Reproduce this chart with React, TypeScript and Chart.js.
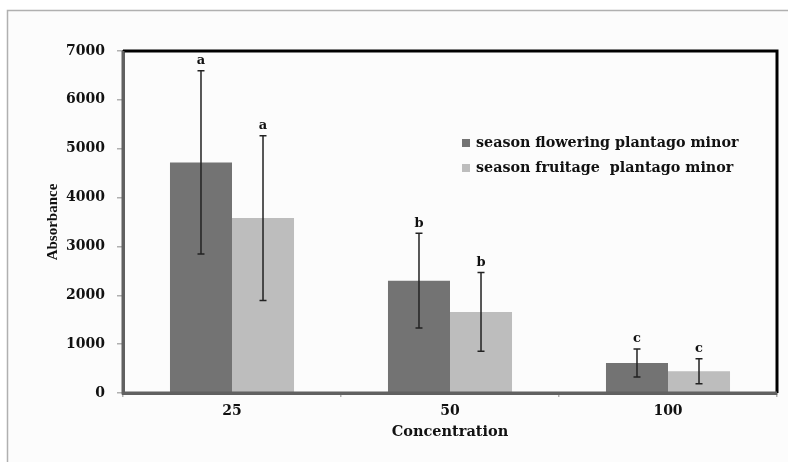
import React, { useEffect, useRef } from "react";
import { Chart, registerables } from "chart.js";

Chart.register(...registerables);

const categories = ["25", "50", "100"];
const seriesNames = ["season flowering plantago minor", "season fruitage  plantago minor"];
const flowering = [4720, 2300, 615];
const fruitage = [3580, 1660, 445];
const floweringErr = [1875, 970, 285];
const fruitageErr = [1685, 805, 256];
const floweringLetters = ["a", "b", "c"];
const fruitageLetters = ["a", "b", "c"];
const yTicks = [0, 1000, 2000, 3000, 4000, 5000, 6000, 7000];

const DARK = "#737373";
const LIGHT = "#bdbdbd";
const SERIF_WIDE = "'DejaVu Serif', serif";
const SERIF = "'Liberation Serif', 'Times New Roman', serif";

export default function App() {
  const ref = useRef<HTMLCanvasElement | null>(null);

  useEffect(() => {
    const canvas = ref.current;
    if (!canvas) return;
    const errs = [floweringErr, fruitageErr];
    const letters = [floweringLetters, fruitageLetters];

    const framePlugin = {
      id: "frame",
      beforeDraw(chart: any) {
        const ctx = chart.ctx;
        ctx.save();
        ctx.fillStyle = "#ffffff";
        ctx.fillRect(0, 0, chart.width, chart.height);
        ctx.fillStyle = "#fcfcfc";
        ctx.fillRect(7, 10, chart.width, chart.height);
        ctx.strokeStyle = "#b0b0b0";
        ctx.lineWidth = 1.5;
        ctx.strokeRect(7.5, 10.5, chart.width + 20, chart.height + 20);
        ctx.restore();
      },
      afterDatasetsDraw(chart: any) {
        const ctx = chart.ctx;
        const a = chart.chartArea;
        const y = chart.scales.y;
        ctx.save();
        chart.data.datasets.forEach((ds: any, di: number) => {
          const meta = chart.getDatasetMeta(di);
          meta.data.forEach((bar: any, i: number) => {
            const v = ds.data[i];
            const e = errs[di][i];
            const top = y.getPixelForValue(v + e);
            const bot = y.getPixelForValue(v - e);
            const x = bar.x;
            ctx.strokeStyle = "#222";
            ctx.lineWidth = 1.5;
            ctx.beginPath();
            ctx.moveTo(x, top);
            ctx.lineTo(x, bot);
            ctx.moveTo(x - 3.5, top);
            ctx.lineTo(x + 3.5, top);
            ctx.moveTo(x - 3.5, bot);
            ctx.lineTo(x + 3.5, bot);
            ctx.stroke();
            ctx.fillStyle = "#111";
            ctx.font = "bold 13px " + SERIF_WIDE;
            ctx.textAlign = "center";
            ctx.textBaseline = "middle";
            ctx.fillText(letters[di][i], x, top - 10);
          });
        });
        ctx.strokeStyle = "#000";
        ctx.lineWidth = 3;
        ctx.beginPath();
        ctx.moveTo(a.left, a.top);
        ctx.lineTo(a.right, a.top);
        ctx.lineTo(a.right, a.bottom);
        ctx.stroke();
        ctx.strokeStyle = "#616161";
        ctx.lineWidth = 3;
        ctx.beginPath();
        ctx.moveTo(a.left, a.top);
        ctx.lineTo(a.left, a.bottom);
        ctx.lineTo(a.right, a.bottom);
        ctx.stroke();
        const colors = [DARK, LIGHT];
        ctx.font = "bold 14.3px " + SERIF_WIDE;
        ctx.textAlign = "left";
        ctx.textBaseline = "middle";
        seriesNames.forEach((name, i) => {
          const cy = 143 + i * 25;
          ctx.fillStyle = colors[i];
          ctx.fillRect(462, cy - 4, 8, 8);
          ctx.fillStyle = "#111";
          ctx.fillText(name, 476, cy);
        });
        ctx.restore();
      },
    };

    const chart = new Chart(canvas, {
      type: "bar",
      data: {
        labels: categories,
        datasets: [
          { label: seriesNames[0], data: flowering, backgroundColor: DARK, borderWidth: 0 },
          { label: seriesNames[1], data: fruitage, backgroundColor: LIGHT, borderWidth: 0 },
        ],
      },
      options: {
        responsive: false,
        animation: false,
        devicePixelRatio: 1,
        layout: { padding: { top: 51, right: 11, left: 0, bottom: 0 } },
        datasets: { bar: { categoryPercentage: 0.569, barPercentage: 1 } },
        plugins: { legend: { display: false }, tooltip: { enabled: false } },
        scales: {
          x: {
            afterFit(scale: any) {
              scale.height = 69;
            },
            grid: {
              offset: true,
              drawOnChartArea: false,
              tickLength: 4,
              color: "#b0b0b0",
              lineWidth: 1.5,
            },
            border: { display: true, color: "#616161", width: 3 },
            ticks: {
              color: "#111",
              font: { family: SERIF_WIDE, size: 14, weight: "bold" },
              padding: 6,
              maxRotation: 0,
            },
            title: {
              display: true,
              text: "Concentration",
              color: "#111",
              font: { family: SERIF_WIDE, size: 14.5, weight: "bold" },
              padding: { top: 0, bottom: 21 },
            },
          },
          y: {
            min: 0,
            max: 7000,
            afterFit(scale: any) {
              scale.width = 123;
            },
            afterBuildTicks(scale: any) {
              scale.ticks = yTicks.map((v) => ({ value: v }));
            },
            grid: {
              drawOnChartArea: false,
              tickLength: 6,
              color: "#b0b0b0",
              lineWidth: 1.5,
            },
            border: { display: true, color: "#616161", width: 3 },
            ticks: {
              color: "#111",
              font: { family: SERIF_WIDE, size: 14, weight: "bold" },
              padding: 12,
              callback: (v: any) => String(v),
            },
            title: {
              display: true,
              text: "Absorbance",
              color: "#111",
              font: { family: SERIF, size: 15, weight: "bold" },
              padding: { top: 44, bottom: 0 },
            },
          },
        },
      },
      plugins: [framePlugin],
    } as any);
    return () => chart.destroy();
  }, []);

  return (
    <div style={{ position: "fixed", left: 0, top: 0, width: 788, height: 462 }}>
      <canvas ref={ref} width={788} height={462} style={{ width: 788, height: 462, display: "block" }} />
    </div>
  );
}
